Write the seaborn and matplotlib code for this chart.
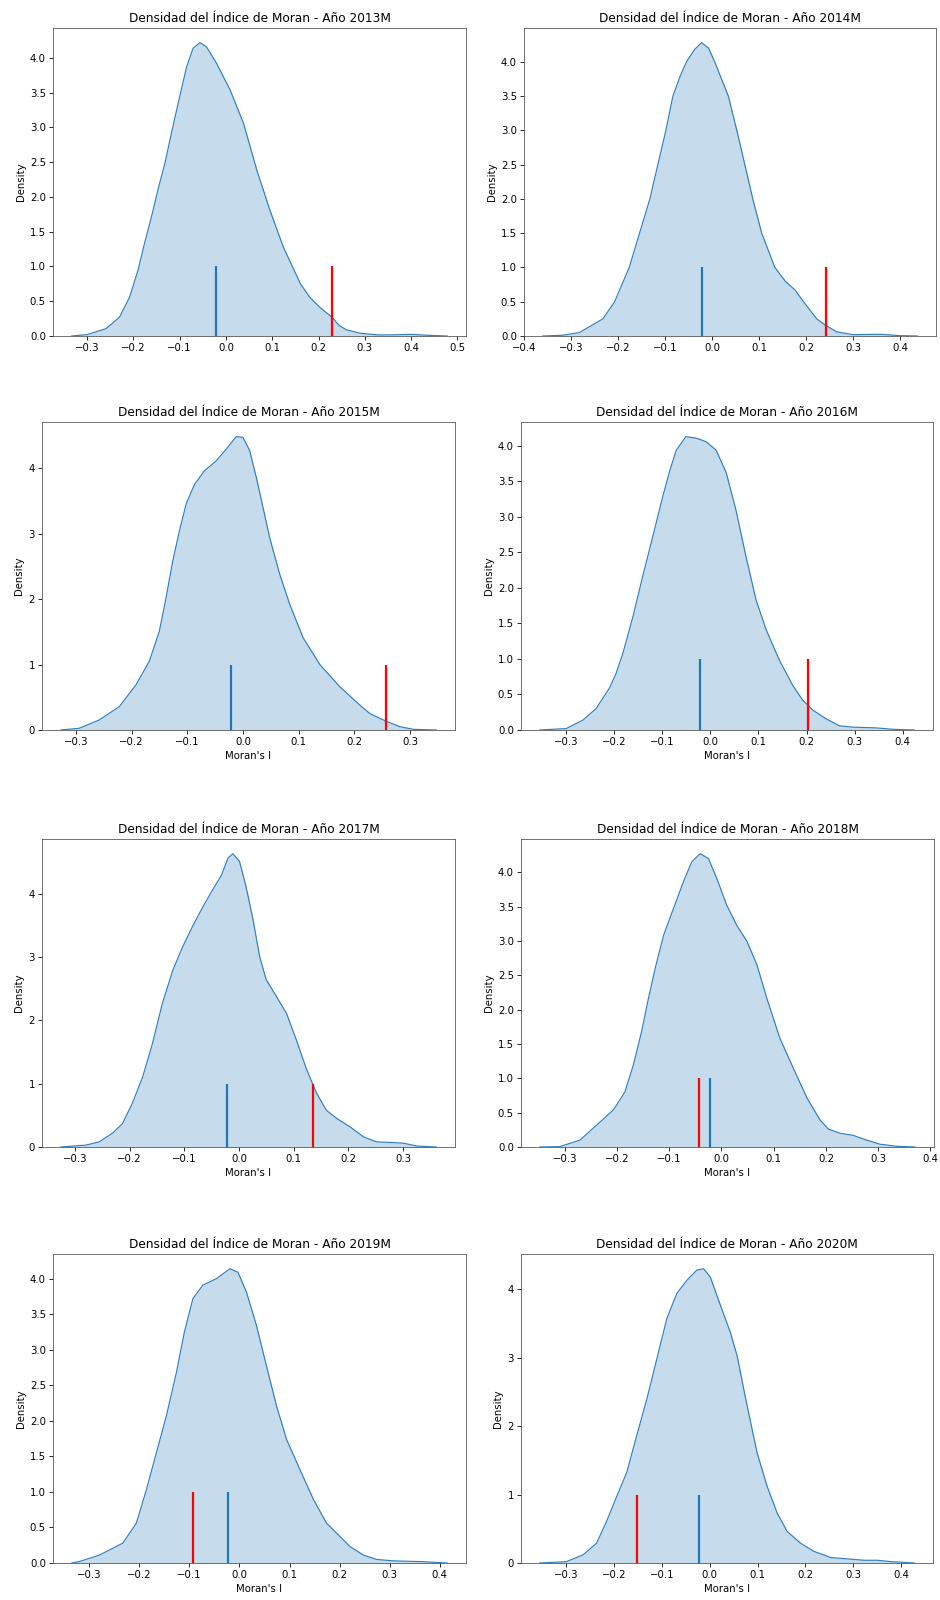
import matplotlib
matplotlib.use("Agg")
import matplotlib.pyplot as plt
import seaborn as sns

# Moran's I permutation densities
years = ['2013M', '2014M', '2015M', '2016M', '2017M', '2018M', '2019M', '2020M']
expected_i = [-0.0222, -0.0222, -0.0222, -0.0222, -0.0222, -0.0222, -0.0222, -0.0222]
observed_i = [0.229, 0.242, 0.257, 0.203, 0.135, -0.044, -0.093, -0.153]

x_2013 = [-0.333, -0.30, -0.259, -0.23, -0.208, -0.19, -0.176, -0.161, -0.147, -0.132, -0.118,
          -0.100, -0.085, -0.071, -0.056, -0.042, -0.020, 0.009, 0.038, 0.067, 0.095, 0.124,
          0.161, 0.182, 0.205, 0.229, 0.245, 0.26, 0.29, 0.33, 0.37, 0.40, 0.43, 0.478]
y_2013 = [0.0, 0.02, 0.106, 0.27, 0.56, 0.945, 1.33, 1.71, 2.10, 2.48, 2.91,
          3.44, 3.87, 4.14, 4.22, 4.16, 3.92, 3.54, 3.06, 2.38, 1.81, 1.28,
          0.75, 0.55, 0.4, 0.27, 0.15, 0.09, 0.04, 0.015, 0.018, 0.024, 0.012, 0.0]

x_2014 = [-0.361, -0.32, -0.283, -0.233, -0.208, -0.177, -0.155, -0.133, -0.116, -0.099, -0.084,
          -0.068, -0.055, -0.038, -0.023, -0.008, 0.005, 0.034, 0.052, 0.069, 0.086, 0.105, 0.133,
          0.155, 0.176, 0.194, 0.222, 0.242, 0.265, 0.30, 0.357, 0.40, 0.436]
y_2014 = [0.0, 0.01, 0.05, 0.25, 0.5, 1.0, 1.5, 2.0, 2.5, 3.0, 3.5,
          3.8, 4.0, 4.18, 4.28, 4.2, 4.0, 3.5, 3.0, 2.5, 2.0, 1.5, 1.0,
          0.8, 0.67, 0.5, 0.25, 0.15, 0.06, 0.02, 0.025, 0.005, 0.0]

x_2015 = [-0.327, -0.294, -0.258, -0.222, -0.192, -0.168, -0.150, -0.138, -0.126, -0.114, -0.102,
          -0.087, -0.069, -0.048, -0.030, -0.012, 0.000, 0.012, 0.024, 0.036, 0.048, 0.066, 0.084,
          0.108, 0.138, 0.174, 0.21, 0.228, 0.258, 0.282, 0.306, 0.347]
y_2015 = [0.0, 0.026, 0.153, 0.357, 0.69, 1.05, 1.51, 2.02, 2.58, 3.04, 3.45,
          3.75, 3.96, 4.11, 4.29, 4.48, 4.47, 4.27, 3.86, 3.40, 2.94, 2.38, 1.92,
          1.41, 1.0, 0.66, 0.38, 0.25, 0.13, 0.05, 0.01, 0.0]

x_2016 = [-0.355, -0.3, -0.265, -0.238, -0.21, -0.196, -0.182, -0.161, -0.141, -0.12, -0.099,
          -0.085, -0.071, -0.051, -0.03, -0.009, 0.012, 0.033, 0.053, 0.074, 0.095, 0.116, 0.143,
          0.171, 0.192, 0.213, 0.24, 0.268, 0.296, 0.344, 0.379, 0.424]
y_2016 = [0.0, 0.02, 0.14, 0.3, 0.59, 0.8, 1.08, 1.6, 2.16, 2.72, 3.29,
          3.64, 3.94, 4.13, 4.11, 4.06, 3.94, 3.62, 3.1, 2.44, 1.83, 1.41, 0.99,
          0.63, 0.42, 0.28, 0.16, 0.06, 0.04, 0.03, 0.01, 0.0]

x_2017 = [-0.326, -0.28, -0.256, -0.231, -0.213, -0.195, -0.176, -0.158, -0.14, -0.121, -0.103,
          -0.085, -0.066, -0.048, -0.032, -0.02, -0.011, 0.001, 0.013, 0.026, 0.038, 0.05, 0.069,
          0.087, 0.105, 0.124, 0.142, 0.16, 0.179, 0.203, 0.228, 0.252, 0.283, 0.301, 0.326, 0.361]
y_2017 = [0.0, 0.03, 0.08, 0.22, 0.37, 0.69, 1.11, 1.64, 2.27, 2.79, 3.16,
          3.48, 3.79, 4.06, 4.29, 4.56, 4.63, 4.51, 4.11, 3.58, 3.0, 2.64, 2.37,
          2.11, 1.69, 1.22, 0.85, 0.58, 0.45, 0.32, 0.16, 0.08, 0.07, 0.06, 0.015, 0.0]

x_2018 = [-0.348, -0.310, -0.271, -0.239, -0.207, -0.185, -0.169, -0.153, -0.140, -0.127, -0.111,
          -0.092, -0.073, -0.057, -0.041, -0.025, -0.009, 0.010, 0.029, 0.049, 0.068, 0.087, 0.112,
          0.138, 0.164, 0.189, 0.205, 0.227, 0.252, 0.278, 0.304, 0.336, 0.371]
y_2018 = [0.0, 0.005, 0.10, 0.32, 0.54, 0.80, 1.19, 1.68, 2.16, 2.60, 3.08,
          3.47, 3.86, 4.15, 4.27, 4.20, 3.91, 3.52, 3.23, 2.99, 2.65, 2.16, 1.58,
          1.14, 0.71, 0.39, 0.26, 0.20, 0.17, 0.1, 0.04, 0.01, 0.0]

x_2019 = [-0.335, -0.320, -0.280, -0.233, -0.206, -0.186, -0.166, -0.146, -0.126, -0.110, -0.093,
          -0.073, -0.046, -0.019, -0.003, 0.014, 0.034, 0.054, 0.074, 0.094, 0.121, 0.148, 0.174,
          0.201, 0.221, 0.248, 0.274, 0.308, 0.361, 0.415]
y_2019 = [0.0, 0.02, 0.11, 0.28, 0.56, 1.03, 1.55, 2.07, 2.68, 3.25, 3.72,
          3.91, 4.00, 4.14, 4.09, 3.81, 3.34, 2.77, 2.21, 1.74, 1.31, 0.89, 0.56,
          0.37, 0.23, 0.11, 0.05, 0.03, 0.02, 0.0]

x_2020 = [-0.356, -0.3, -0.265, -0.237, -0.216, -0.195, -0.174, -0.153, -0.132, -0.111, -0.09,
          -0.069, -0.048, -0.027, -0.013, 0.001, 0.022, 0.043, 0.057, 0.078, 0.099, 0.12, 0.141,
          0.162, 0.19, 0.218, 0.253, 0.288, 0.323, 0.351, 0.379, 0.428]
y_2020 = [0.0, 0.02, 0.12, 0.29, 0.61, 0.97, 1.32, 1.86, 2.39, 2.98, 3.57,
          3.94, 4.13, 4.28, 4.30, 4.18, 3.77, 3.37, 3.03, 2.3, 1.61, 1.12, 0.73,
          0.46, 0.29, 0.17, 0.08, 0.06, 0.04, 0.04, 0.02, 0.0]

curves_x = [x_2013, x_2014, x_2015, x_2016, x_2017, x_2018, x_2019, x_2020]
curves_y = [y_2013, y_2014, y_2015, y_2016, y_2017, y_2018, y_2019, y_2020]

# axes boxes in pixels: left, top, right, bottom (each panel was a separate image)
boxes = [(53, 28, 466, 336), (524, 28, 936, 336),
         (42, 422, 455, 730), (521, 422, 933, 730),
         (42, 839, 455, 1147), (521, 839, 934, 1147),
         (53, 1254, 466, 1563), (521, 1254, 933, 1563)]
W, H = 940, 1600
s = 0.73  # the source images were shrunk

plt.rcParams.update({
    'font.family': 'DejaVu Sans',
    'axes.linewidth': 0.8 * s,
    'xtick.major.size': 3.5 * s, 'ytick.major.size': 3.5 * s,
    'xtick.major.width': 0.8 * s, 'ytick.major.width': 0.8 * s,
    'xtick.major.pad': 3.5 * s, 'ytick.major.pad': 3.5 * s,
    'xtick.labelsize': 10 * s, 'ytick.labelsize': 10 * s,
    'axes.labelsize': 10 * s, 'axes.titlesize': 12 * s,
    'axes.titlepad': 6 * s, 'axes.labelpad': 4 * s,
})

fig = plt.figure(figsize=(W / 100, H / 100), dpi=100)

for i, year in enumerate(years):
    l, t, r, b = boxes[i]
    ax = fig.add_axes([l / W, 1 - b / H, (r - l) / W, (b - t) / H])
    xs, ys = curves_x[i], curves_y[i]
    sns.lineplot(x=xs, y=ys, ax=ax, color='#2e7fbd', linewidth=0.85, sort=False)
    ax.fill_between(xs, ys, color='C0', alpha=0.25, linewidth=0)
    ax.vlines(expected_i[i], 0, 1, color='#1f77b4', linewidth=1.6)
    ax.vlines(observed_i[i], 0, 1, color='red', linewidth=1.6)
    ax.set_ylim(bottom=0)
    ax.set_title(f'Densidad del Índice de Moran - Año {year}')
    ax.set_ylabel('Density')
    if i >= 2:
        ax.set_xlabel("Moran's I")
    for sp in ax.spines.values():
        sp.set_color('#555555')

fig.savefig('out.png', dpi=100)
